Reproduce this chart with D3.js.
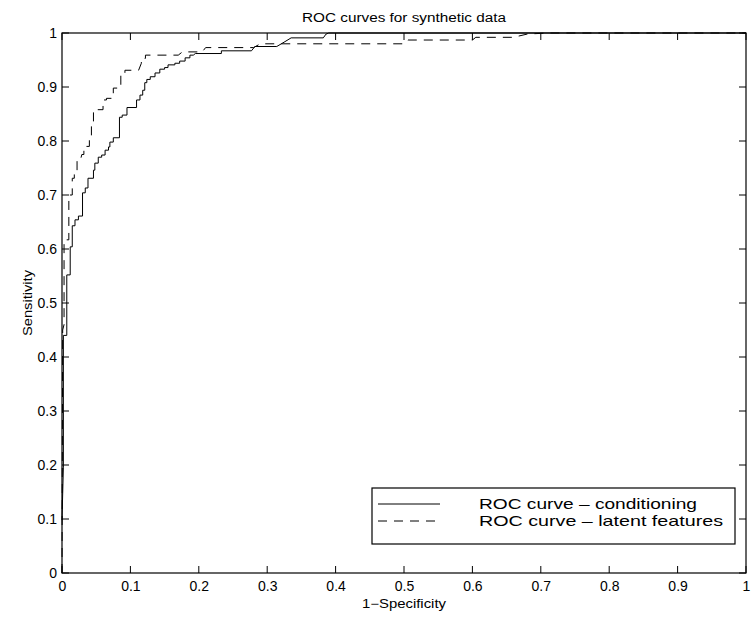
<!DOCTYPE html>
<html>
<head>
<meta charset="utf-8">
<script src="https://cdn.jsdelivr.net/npm/d3@7"></script>
<style>
    body { margin: 0; background: #fff; }
    svg text { font-family: "Liberation Sans", Arial, Helvetica, sans-serif; fill: #000; }
</style>
</head>
<body>
<div id="chart"></div>
<script>
// ROC curve vertices: [1-specificity, sensitivity]
let conditioning = [
    [0, 0.098], [0.002, 0.196], [0.002, 0.44], [0.007, 0.44], [0.007, 0.552], [0.012, 0.552],
    [0.012, 0.604], [0.015, 0.604], [0.015, 0.643], [0.019, 0.643], [0.019, 0.654], [0.024, 0.654],
    [0.024, 0.661], [0.030, 0.661], [0.030, 0.704], [0.034, 0.704], [0.034, 0.713], [0.038, 0.713],
    [0.038, 0.731], [0.046, 0.731], [0.046, 0.746], [0.048, 0.746], [0.048, 0.759], [0.053, 0.759],
    [0.053, 0.770], [0.058, 0.770], [0.058, 0.774], [0.063, 0.774], [0.063, 0.783], [0.068, 0.783],
    [0.068, 0.789], [0.070, 0.789], [0.070, 0.798], [0.075, 0.798], [0.075, 0.806], [0.084, 0.806],
    [0.084, 0.844], [0.088, 0.844], [0.088, 0.848], [0.095, 0.848], [0.095, 0.862], [0.109, 0.862],
    [0.109, 0.876], [0.114, 0.876], [0.114, 0.885], [0.118, 0.885], [0.118, 0.894], [0.121, 0.894],
    [0.121, 0.908], [0.124, 0.908], [0.124, 0.914], [0.129, 0.914], [0.129, 0.919], [0.136, 0.919],
    [0.136, 0.926], [0.143, 0.926], [0.143, 0.933], [0.150, 0.933], [0.150, 0.936], [0.155, 0.936],
    [0.155, 0.941], [0.165, 0.941], [0.165, 0.944], [0.172, 0.944], [0.172, 0.948], [0.180, 0.948],
    [0.180, 0.954], [0.187, 0.954], [0.187, 0.959], [0.192, 0.959], [0.195, 0.962], [0.233, 0.962],
    [0.233, 0.967], [0.277, 0.967], [0.282, 0.975], [0.314, 0.975], [0.326, 0.984], [0.335, 0.991],
    [0.382, 0.991], [0.386, 0.998], [0.390, 1.0], [1, 1]
];

let latentFeatures = [
    [0, 0], [0.001, 0.45], [0.003, 0.46], [0.003, 0.617], [0.010, 0.617], [0.010, 0.700],
    [0.015, 0.700], [0.015, 0.731], [0.018, 0.731], [0.018, 0.745], [0.022, 0.745], [0.022, 0.765],
    [0.027, 0.765], [0.029, 0.775], [0.032, 0.775], [0.032, 0.790], [0.040, 0.790], [0.040, 0.805],
    [0.043, 0.805], [0.043, 0.827], [0.046, 0.827], [0.046, 0.854], [0.050, 0.854], [0.050, 0.858],
    [0.060, 0.858], [0.060, 0.876], [0.065, 0.876], [0.065, 0.879], [0.075, 0.879], [0.075, 0.898],
    [0.086, 0.898], [0.086, 0.922], [0.092, 0.922], [0.092, 0.931], [0.112, 0.931], [0.116, 0.944],
    [0.116, 0.953], [0.122, 0.953], [0.122, 0.959], [0.170, 0.959], [0.176, 0.965], [0.205, 0.965],
    [0.210, 0.973], [0.280, 0.973], [0.290, 0.980], [0.500, 0.980], [0.506, 0.987], [0.600, 0.987],
    [0.605, 0.992], [0.660, 0.992], [0.680, 0.998], [0.710, 1.0], [1, 1]
];

let xTicks = [0, 0.1, 0.2, 0.3, 0.4, 0.5, 0.6, 0.7, 0.8, 0.9, 1];
let yTicks = [0, 0.1, 0.2, 0.3, 0.4, 0.5, 0.6, 0.7, 0.8, 0.9, 1];
let legendLabels = ["ROC curve \u2013 conditioning", "ROC curve \u2013 latent features"];

let width = 753, height = 621;
let margin = {top: 33, right: 7, bottom: 48, left: 62};
let plotW = width - margin.left - margin.right;
let plotH = height - margin.top - margin.bottom;
let tickLen = 7;

let svg = d3.select("#chart").append("svg")
    .attr("width", width)
    .attr("height", height);

let g = svg.append("g")
    .attr("transform", "translate(" + margin.left + "," + margin.top + ")");

let x = d3.scaleLinear().domain([0, 1]).range([0, plotW]);
let y = d3.scaleLinear().domain([0, 1]).range([plotH, 0]);

let fmt = function(d) { return d === 0 || d === 1 ? String(d) : d3.format(".1f")(d); };

//tick labels from d3 axes
let xAxis = g.append("g")
    .attr("transform", "translate(0," + plotH + ")")
    .call(d3.axisBottom(x).tickValues(xTicks).tickSize(0).tickPadding(8).tickFormat(fmt));
let yAxis = g.append("g")
    .call(d3.axisLeft(y).tickValues(yTicks).tickSize(0).tickPadding(5).tickFormat(fmt));

[xAxis, yAxis].forEach(function(a) {
    a.select(".domain").remove();
    a.selectAll(".tick line").remove();
    a.selectAll(".tick text").style("font-size", "14px");
});

//inward tick marks on all four sides, one path
let tp = d3.path();
xTicks.forEach(function(v) {
    let px = x(v);
    tp.moveTo(px, plotH); tp.lineTo(px, plotH - tickLen);
    tp.moveTo(px, 0); tp.lineTo(px, tickLen);
});
yTicks.forEach(function(v) {
    let py = y(v);
    tp.moveTo(0, py); tp.lineTo(tickLen, py);
    tp.moveTo(plotW, py); tp.lineTo(plotW - tickLen, py);
});
g.append("path")
    .attr("d", tp.toString())
    .attr("fill", "none")
    .attr("stroke", "#000")
    .attr("stroke-width", 1);

let line = d3.line()
    .x(function(d) { return x(d[0]); })
    .y(function(d) { return y(d[1]); });

g.append("path")
    .datum(latentFeatures)
    .attr("fill", "none")
    .attr("stroke", "#000")
    .attr("stroke-width", 1)
    .attr("stroke-dasharray", "9,7")
    .attr("d", line);

g.append("path")
    .datum(conditioning)
    .attr("fill", "none")
    .attr("stroke", "#000")
    .attr("stroke-width", 1)
    .attr("d", line);

//plot frame
g.append("rect")
    .attr("width", plotW)
    .attr("height", plotH)
    .attr("fill", "none")
    .attr("stroke", "#000")
    .attr("stroke-width", 1.2);

//titles (the original text is a bit wider than Arial, so stretch to the measured width)
svg.append("text")
    .attr("x", margin.left + plotW / 2)
    .attr("y", 22)
    .attr("text-anchor", "middle")
    .attr("textLength", 204)
    .attr("lengthAdjust", "spacingAndGlyphs")
    .style("font-size", "12px")
    .text("ROC curves for synthetic data");

svg.append("text")
    .attr("x", margin.left + plotW / 2)
    .attr("y", 608)
    .attr("text-anchor", "middle")
    .attr("textLength", 84)
    .attr("lengthAdjust", "spacingAndGlyphs")
    .style("font-size", "12px")
    .text("1\u2212Specificity");

svg.append("text")
    .attr("transform", "translate(32," + (margin.top + plotH / 2) + ") rotate(-90)")
    .attr("text-anchor", "middle")
    .attr("textLength", 66)
    .attr("lengthAdjust", "spacingAndGlyphs")
    .style("font-size", "12px")
    .text("Sensitivity");

//legend box in the lower right
let legend = svg.append("g").attr("transform", "translate(372,488)");
legend.append("rect")
    .attr("width", 363)
    .attr("height", 56)
    .attr("fill", "#fff")
    .attr("stroke", "#000")
    .attr("stroke-width", 1.2);

let legendWidths = [218, 244];
legendLabels.forEach(function(label, i) {
    let ly = 16 + i * 17;
    legend.append("line")
        .attr("x1", 6).attr("x2", 68)
        .attr("y1", ly).attr("y2", ly)
        .attr("stroke", "#000")
        .attr("stroke-dasharray", i === 1 ? "9,7" : null);
    legend.append("text")
        .attr("x", 107)
        .attr("y", ly + 5)
        .attr("textLength", legendWidths[i])
        .attr("lengthAdjust", "spacingAndGlyphs")
        .style("font-size", "15px")
        .text(label);
});
</script>
</body>
</html>
